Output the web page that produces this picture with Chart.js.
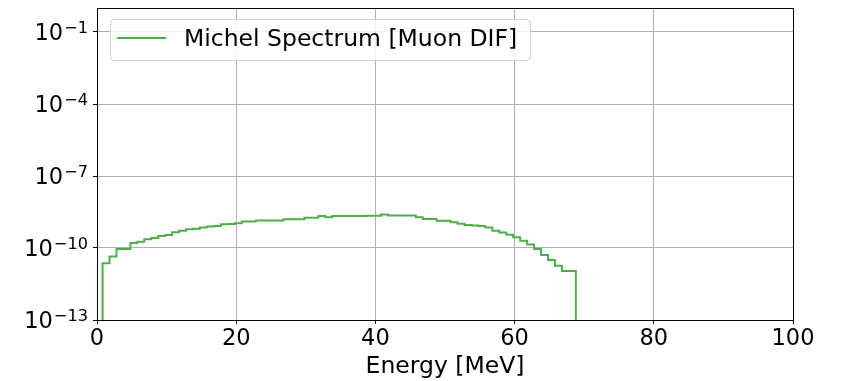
<!DOCTYPE html>
<html>
<head>
<meta charset="utf-8">
<script src="https://cdn.jsdelivr.net/npm/chart.js@4/dist/chart.umd.min.js"></script>
<style>
  html, body { margin: 0; padding: 0; background: #fff; }
</style>
</head>
<body>
<canvas id="spectrumChart" width="843" height="381"></canvas>
<script>
// histogram bins (MeV)
const binStart = 0.8;
const binWidth = 1.0;

// bin contents
const binValues = [
  5.8e-12, 2.3e-11, 4.4e-11, 9.1e-11, 9.1e-11, 1.6e-10, 1.8e-10, 2.3e-10, 2.6e-10, 3.2e-10,
  3.5e-10, 4.5e-10, 5.2e-10, 6.0e-10, 6.3e-10, 7.1e-10, 7.9e-10, 8.3e-10, 9.8e-10, 1.0e-9,
  1.07e-9, 1.26e-9, 1.26e-9, 1.41e-9, 1.41e-9, 1.41e-9, 1.41e-9, 1.58e-9, 1.58e-9, 1.58e-9,
  1.82e-9, 1.82e-9, 2.14e-9, 1.9e-9, 2.14e-9, 2.14e-9, 2.14e-9, 2.14e-9, 2.14e-9, 2.19e-9,
  2.19e-9, 2.5e-9, 2.24e-9, 2.24e-9, 2.24e-9, 2.24e-9, 1.9e-9, 1.62e-9, 1.62e-9, 1.38e-9,
  1.38e-9, 1.17e-9, 1.02e-9, 9.1e-10, 8.7e-10, 8.3e-10, 7.1e-10, 5.2e-10, 4.4e-10, 3.6e-10,
  2.8e-10, 2.0e-10, 1.41e-10, 9.1e-11, 5.1e-11, 3.2e-11, 1.8e-11, 1.1e-11
];

const seriesLabel = 'Michel Spectrum [Muon DIF]';
const xTicks = [0, 20, 40, 60, 80, 100];
const yTicks = [1e-13, 1e-10, 1e-7, 1e-4, 1e-1];
const yTickBase = '10';
const yTickExponents = ['\u221213', '\u221210', '\u22127', '\u22124', '\u22121'];
const yMin = 1e-13;
const yMax = 1;

// step outline: up from the floor, across each bin, back down
const points = [];
const firstEdge = binStart;
const lastEdge = binStart + binWidth * binValues.length;
points.push({ x: firstEdge, y: yMin });
binValues.forEach((v, i) => points.push({ x: binStart + i * binWidth, y: v }));
points.push({ x: lastEdge, y: binValues[binValues.length - 1] });
points.push({ x: lastEdge, y: yMin });

const FONT = "'DejaVu Sans', sans-serif";
const TICK_SIZE = 22.5;

// black frame round the plot area
const framePlugin = {
  id: 'frame',
  afterDatasetsDraw(chart) {
    const { ctx, chartArea: a } = chart;
    ctx.save();
    ctx.strokeStyle = '#000';
    ctx.lineWidth = 1;
    ctx.strokeRect(Math.round(a.left) + 0.5, Math.round(a.top) + 0.5,
      Math.round(a.right - a.left), Math.round(a.bottom - a.top));
    ctx.restore();
  }
};

// y tick labels as 10 with a raised, smaller exponent
const powerLabels = {
  id: 'powerLabels',
  afterDraw(chart) {
    const { ctx } = chart;
    const yScale = chart.scales.y;
    const right = yScale.right - 9;
    ctx.save();
    ctx.fillStyle = '#000';
    ctx.textBaseline = 'alphabetic';
    ctx.textAlign = 'left';
    yScale.ticks.forEach((t, i) => {
      const py = yScale.getPixelForValue(t.value);
      const exp = yTickExponents[i];
      ctx.font = (TICK_SIZE * 0.72) + 'px ' + FONT;
      const ew = ctx.measureText(exp).width;
      ctx.fillText(exp, right - ew, py + 1);
      ctx.font = TICK_SIZE + 'px ' + FONT;
      const bw = ctx.measureText(yTickBase).width;
      ctx.fillText(yTickBase, right - ew - bw - 1, py + 8);
    });
    ctx.restore();
  }
};

// matplotlib-style legend box in the upper left
const legendPlugin = {
  id: 'boxLegend',
  afterDraw(chart) {
    const { ctx } = chart;
    const ds = chart.data.datasets[0];
    const x = 110.5, y = 19.5, w = 420, h = 41, r = 4;
    ctx.save();
    ctx.beginPath();
    ctx.roundRect(x, y, w, h, r);
    ctx.fillStyle = 'rgba(255,255,255,0.8)';
    ctx.fill();
    ctx.strokeStyle = '#d0d0d0';
    ctx.lineWidth = 1;
    ctx.stroke();
    ctx.beginPath();
    ctx.moveTo(117, 38);
    ctx.lineTo(166, 38);
    ctx.strokeStyle = ds.borderColor;
    ctx.lineWidth = 2;
    ctx.stroke();
    ctx.fillStyle = '#000';
    ctx.font = '23.5px ' + FONT;
    ctx.textBaseline = 'middle';
    ctx.fillText(ds.label, 184, 40);
    ctx.restore();
  }
};

new Chart(document.getElementById('spectrumChart'), {
  type: 'line',
  data: {
    datasets: [{
      label: seriesLabel,
      data: points,
      borderColor: '#4daf4a',
      borderWidth: 2,
      pointRadius: 0,
      stepped: 'after',
      fill: false
    }]
  },
  options: {
    responsive: false,
    animation: false,
    devicePixelRatio: 1,
    layout: { padding: { top: 8, right: 50, left: 0, bottom: 0 } },
    plugins: {
      legend: { display: false },
      tooltip: { enabled: false }
    },
    scales: {
      x: {
        type: 'linear',
        min: 0,
        max: 100,
        afterBuildTicks: s => { s.ticks = xTicks.map(v => ({ value: v })); },
        afterFit: s => { s.height = 61; s.paddingLeft = 0; s.paddingRight = 0; },
        ticks: { color: '#000', font: { family: FONT, size: TICK_SIZE }, padding: 2, maxRotation: 0 },
        grid: { color: '#b0b0b0', lineWidth: 1, tickColor: '#000', tickLength: 4 },
        border: { display: false },
        title: {
          display: true,
          text: 'Energy [MeV]',
          color: '#000',
          font: { family: FONT, size: 23.5, lineHeight: 1.2 },
          padding: { top: 0, bottom: 0 }
        }
      },
      y: {
        type: 'logarithmic',
        min: yMin,
        max: yMax,
        afterBuildTicks: s => { s.ticks = yTicks.map(v => ({ value: v })); },
        afterFit: s => { s.width = 97; s.paddingTop = 0; s.paddingBottom = 0; },
        ticks: { display: false },
        grid: { color: '#b0b0b0', lineWidth: 1, tickColor: '#000', tickLength: 4 },
        border: { display: false }
      }
    }
  },
  plugins: [framePlugin, powerLabels, legendPlugin]
});
</script>
</body>
</html>
